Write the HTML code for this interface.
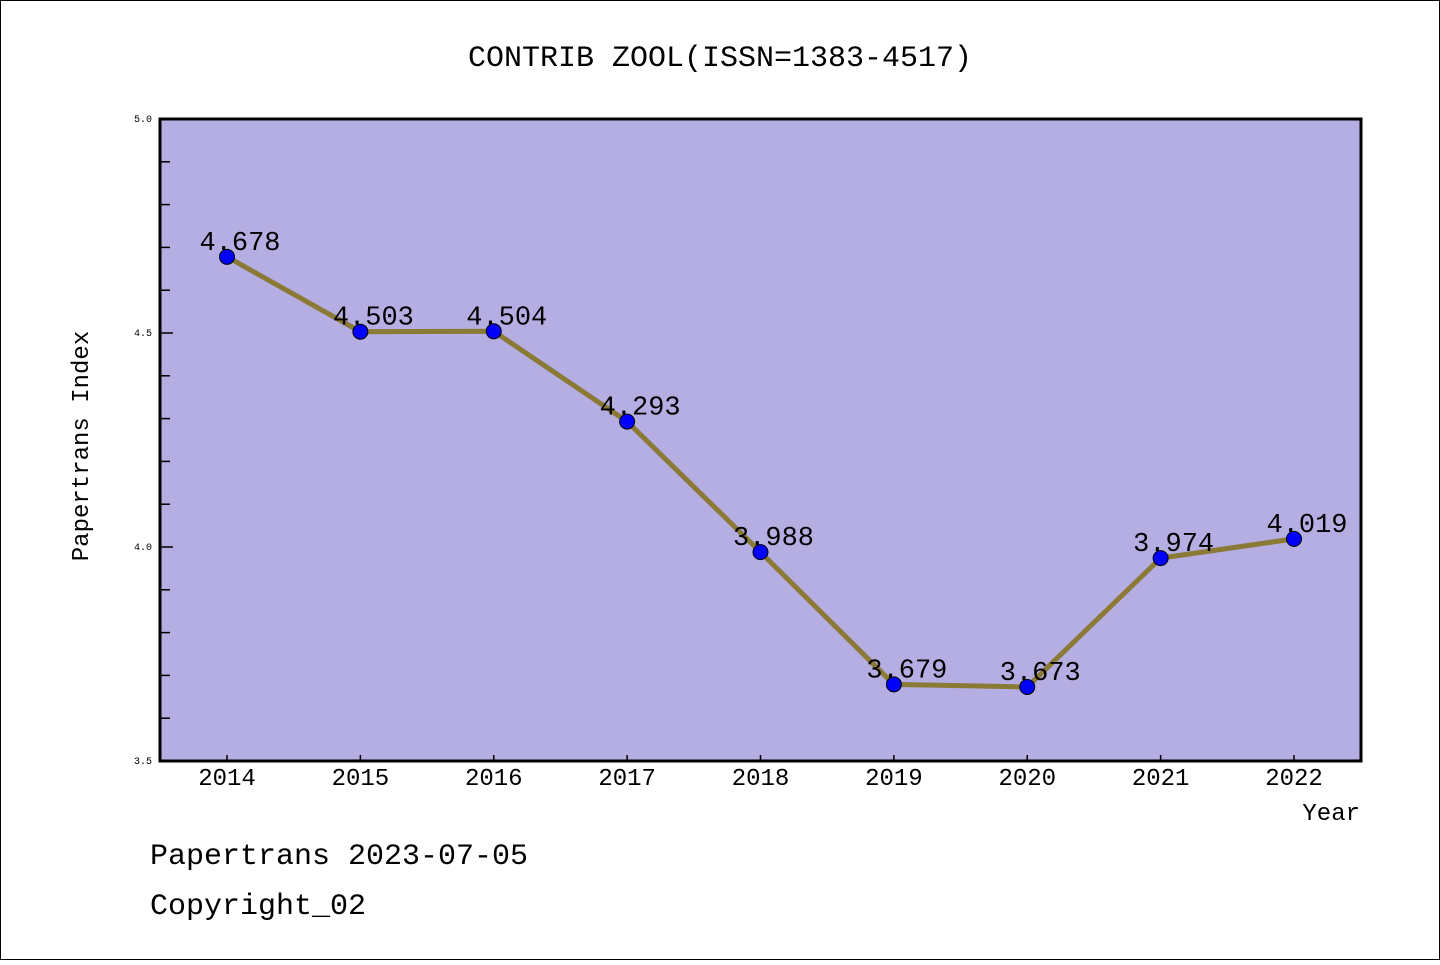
<!DOCTYPE html>
<html><head><meta charset="utf-8"><style>
body{margin:0;background:#fff}
svg text{font-family:"Liberation Mono","DejaVu Sans Mono",monospace}
</style></head><body>
<svg width="1440" height="960" viewBox="0 0 1440 960">
<rect x="0.5" y="0.5" width="1439" height="959" fill="#fff" stroke="#000"/>
<text x="720" y="66" text-anchor="middle" font-size="30">CONTRIB ZOOL(ISSN=1383-4517)</text>
<rect x="160" y="119" width="1201" height="642" fill="#b5aee2"/>
<g id="axes"></g>
<g id="marks"></g>
<rect x="160" y="119" width="1201" height="642" fill="none" stroke="#000" stroke-width="3"/>
<text x="88" y="446" transform="rotate(-90 88 446)" text-anchor="middle" font-size="24">Papertrans Index</text>
<text x="1360" y="820" text-anchor="end" font-size="24">Year</text>
<text x="150" y="864" font-size="30">Papertrans 2023-07-05</text>
<text x="150" y="914" font-size="30">Copyright_02</text>
</svg>
<script>
const years=["2014","2015","2016","2017","2018","2019","2020","2021","2022"];
const values=[4.678,4.503,4.504,4.293,3.988,3.679,3.673,3.974,4.019];
const labels=["4.678","4.503","4.504","4.293","3.988","3.679","3.673","3.974","4.019"];
const yTicks=["3.5","4.0","4.5","5.0"];
const NS="http://www.w3.org/2000/svg";
const x0=227,dx=(1294-227)/8;
function xs(i){return x0+i*dx;}
function ys(v){return 761-(v-3.5)*(642/1.5);}
function mk(t,a,p){const e=document.createElementNS(NS,t);for(const k in a)e.setAttribute(k,a[k]);p.appendChild(e);return e;}
const ax=document.getElementById('axes'),mg=document.getElementById('marks');
for(let k=0;k<=15;k++){const v=3.5+k*0.1;const y=ys(v);const major=k%5==0;
 const l=mk('line',{x1:160,x2:160+(major?13:10),y1:y,y2:y,stroke:'#000','stroke-width':1.5},ax);
 
 }
yTicks.forEach(s=>{const t=mk('text',{x:152,y:ys(+s)+3,'text-anchor':'end','font-size':10},ax);t.textContent=s;
 
 });
years.forEach((s,i)=>{const l=mk('line',{x1:xs(i),x2:xs(i),y1:761,y2:755,stroke:'#000','stroke-width':1.5},ax);
 
 
 const t=mk('text',{x:xs(i),y:785,'text-anchor':'middle','font-size':24},ax);t.textContent=s;
 
 });
const pl=mk('polyline',{points:values.map((v,i)=>xs(i)+','+ys(v)).join(' '),fill:'none',stroke:'#8b7a36','stroke-width':5},mg);


values.forEach((v,i)=>{const c=mk('circle',{cx:xs(i),cy:ys(v),r:7.5,fill:'#0000ff',stroke:'#000','stroke-width':1},mg);
 
 
 const t=mk('text',{x:xs(i)+13,y:ys(v)-7,'text-anchor':'middle','font-size':27},mg);t.textContent=labels[i];
 
 });
</script>
</body></html>
